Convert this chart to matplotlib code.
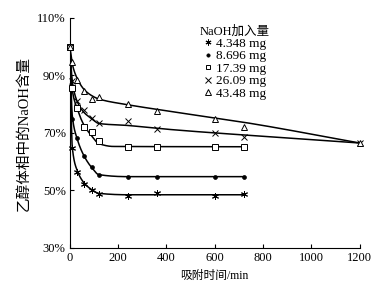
import numpy as np
import matplotlib
matplotlib.use("Agg")
import matplotlib.pyplot as plt
from matplotlib.lines import Line2D
from matplotlib import ticker

plt.rcParams['font.family'] = ['Liberation Serif', 'Noto Sans CJK SC']
plt.rcParams['axes.unicode_minus'] = False

# Measured points (time in min, NaOH content in %)
t_short = [0, 10, 30, 60, 90, 120, 240, 360, 600, 720]
t_long = [0, 10, 30, 60, 90, 120, 240, 360, 600, 720, 1200]
s1 = [100, 64.7, 56.3, 52.3, 50.2, 48.7, 48.1, 49.0, 48.1, 48.7]
s2 = [100, 75.0, 68.1, 62.1, 58.2, 55.5, 54.8, 54.8, 54.8, 54.8]
s3 = [100, 85.5, 78.6, 72.2, 70.3, 67.2, 65.2, 65.2, 65.2, 65.0]
s4 = [100, 88.0, 81.0, 78.0, 75.3, 73.3, 74.3, 71.3, 69.9, 68.5, 66.5]
s5 = [100, 94.8, 88.4, 84.7, 81.7, 82.6, 80.1, 77.8, 74.9, 72.0, 66.5]

# Fitted curves, nodes
f1_t = [0, 10, 30, 60, 90, 120, 240, 720]
f1_y = [100, 65, 57, 52.5, 50.3, 49.0, 48.5, 48.5]
f2_t = [0, 10, 30, 60, 90, 120, 240, 720]
f2_y = [100, 76, 68, 61.8, 58.0, 55.5, 54.8, 54.8]
f3_t = [0, 10, 30, 60, 90, 120, 180, 720]
f3_y = [100, 85, 78.5, 72.5, 69.0, 66.3, 65.3, 65.2]
f4_t = [0, 10, 30, 60, 90, 120, 240, 360, 600, 720, 1200]
f4_y = [100, 88, 81, 77, 75, 73.3, 72.6, 71.6, 70.0, 69.3, 66.5]
f5_t = [0, 10, 30, 60, 90, 120, 240, 360, 600, 720, 1200]
f5_y = [100, 94, 89, 85, 83, 81.8, 79.8, 78.2, 75.2, 73.7, 66.5]

labels = ['4.348 mg', '8.696 mg', '17.39 mg', '26.09 mg', '43.48 mg']


def pchip(x, y, xs):
    # monotone cubic through the curve nodes, only for a smooth stroke
    x = np.asarray(x, float)
    y = np.asarray(y, float)
    h = np.diff(x)
    d = np.diff(y) / h
    m = np.zeros_like(y)
    for k in range(1, len(x) - 1):
        if d[k - 1] * d[k] > 0:
            w1 = 2 * h[k] + h[k - 1]
            w2 = h[k] + 2 * h[k - 1]
            m[k] = (w1 + w2) / (w1 / d[k - 1] + w2 / d[k])
    m[0] = d[0]
    m[-1] = d[-1]
    idx = np.clip(np.searchsorted(x, xs) - 1, 0, len(x) - 2)
    hh = h[idx]
    s = (xs - x[idx]) / hh
    h00 = 2 * s**3 - 3 * s**2 + 1
    h10 = s**3 - 2 * s**2 + s
    h01 = -2 * s**3 + 3 * s**2
    h11 = s**3 - s**2
    return h00 * y[idx] + h10 * hh * m[idx] + h01 * y[idx + 1] + h11 * hh * m[idx + 1]


fig = plt.figure(figsize=(3.86, 2.89), dpi=100)
ax = fig.add_axes([0.181, 0.142, 0.751, 0.796])

fits = [(f1_t, f1_y), (f2_t, f2_y), (f3_t, f3_y), (f4_t, f4_y), (f5_t, f5_y)]
for ft, fy in fits:
    xs = np.linspace(ft[0], ft[-1], 1500)
    ax.plot(xs, pchip(ft, fy, xs), color='black', lw=1.1, zorder=2)

styles = [
    dict(marker=(6, 2, 0), ms=5, mfc='none', mec='black', mew=0.7),
    dict(marker='o', ms=2.8, mfc='black', mec='black', mew=0.5),
    dict(marker='s', ms=4, mfc='white', mec='black', mew=0.7),
    dict(marker='x', ms=5, mfc='none', mec='black', mew=0.7),
    dict(marker='^', ms=4.5, mfc='white', mec='black', mew=0.7),
]
series = [(t_short, s1), (t_short, s2), (t_short, s3), (t_long, s4), (t_long, s5)]
for (tt, yy), st in zip(series, styles):
    ax.plot(tt, yy, ls='none', zorder=3, clip_on=False, **st)

ax.set_xlim(0, 1200)
ax.set_ylim(30, 110)
ax.set_xticks(np.arange(0, 1201, 200))
ax.set_yticks(np.arange(30, 111, 20))
ax.yaxis.set_major_formatter(ticker.FuncFormatter(lambda v, p: '%d%%' % v))
ax.tick_params(direction='in', length=3, width=0.8, labelsize=9, pad=3)
ax.spines['top'].set_visible(False)
ax.spines['right'].set_visible(False)
for sp in ('left', 'bottom'):
    ax.spines[sp].set_linewidth(0.8)

ax.set_xlabel('吸附时间/min', fontsize=8.5, labelpad=4)
ax.set_ylabel('乙醇体相中的NaOH含量', fontsize=10.5, labelpad=5)

handles = [Line2D([], [], ls='none', **st) for st in styles]
for h in handles:
    h.set_markersize(h.get_markersize() * 0.85)
leg = ax.legend(handles, labels, title='NaOH加入量', frameon=False,
                loc='upper left', bbox_to_anchor=(0.498, 0.94),
                bbox_transform=fig.transFigure, fontsize=9.5, title_fontsize=9,
                handlelength=0.6, handletextpad=0.25, labelspacing=0.02,
                borderpad=0.1)

fig.savefig('out.png', dpi=100)
